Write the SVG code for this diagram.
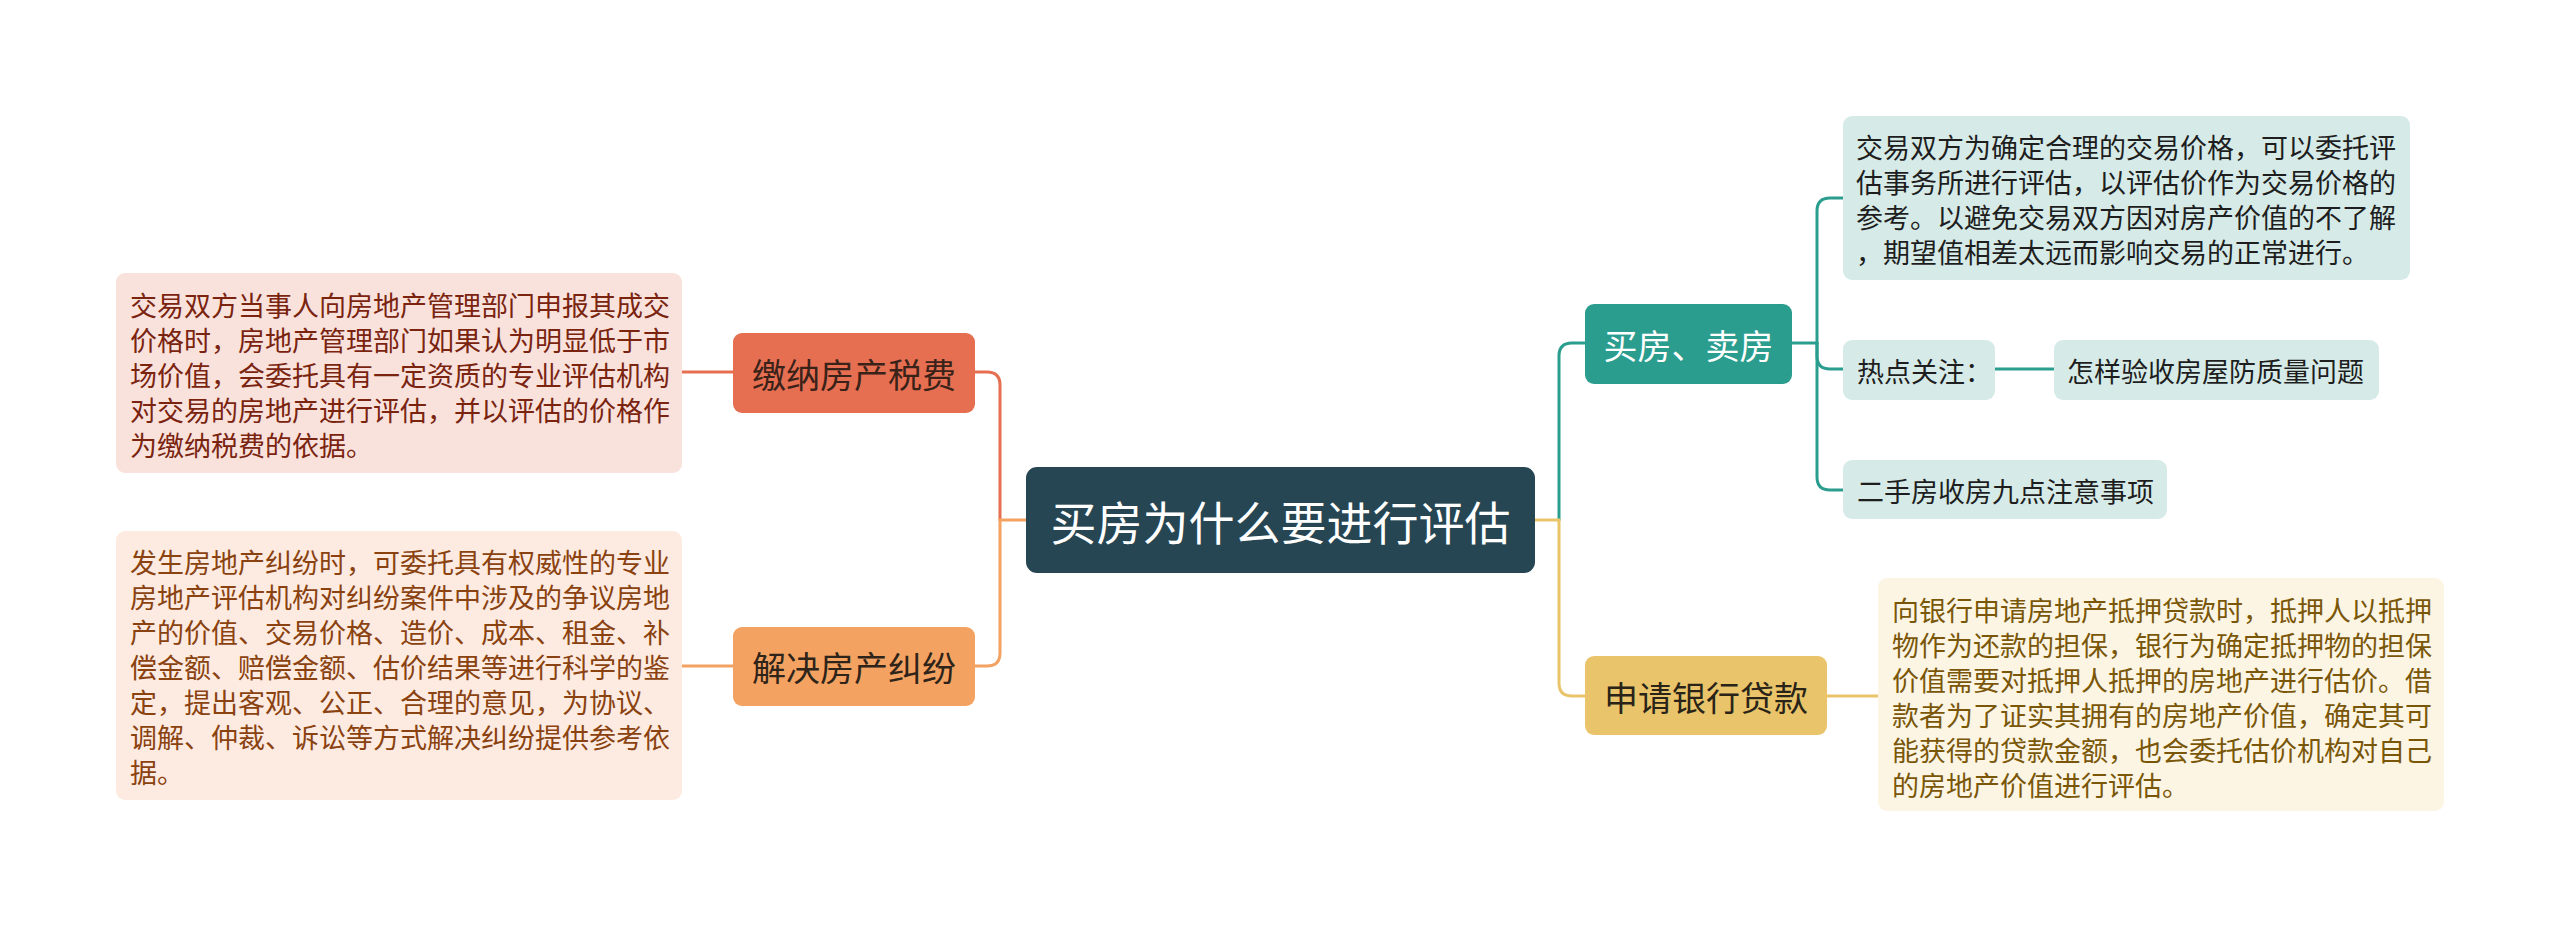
<svg xmlns="http://www.w3.org/2000/svg" width="2560" height="929" viewBox="0 0 2560 929">
<style>
text{font-family:"Noto Sans CJK SC","Noto Sans CJK JP",sans-serif;dominant-baseline:central}
.c{fill:none;stroke-width:3;stroke-linecap:round}
.coral{stroke:#e76f51}.orange{stroke:#f4a261}.teal{stroke:#2a9d8f}.gold{stroke:#e9c46a}
.t27{font-size:27px}
.b34{font-size:34px;text-anchor:middle}
</style>
<rect width="2560" height="929" fill="#ffffff"/>
<g id="connectors">
<path class="c coral" d="M1000,520 V385 Q1000,372 987,372 H975"/>
<path class="c orange" d="M1026,520 H1000 V653 Q1000,666 987,666 H975"/>
<path class="c coral" d="M733,372 H682"/>
<path class="c orange" d="M733,666 H682"/>
<path class="c teal" d="M1559,520 V356 Q1559,343 1572,343 H1585"/>
<path class="c gold" d="M1535,520 H1559 V683 Q1559,696 1572,696 H1585"/>
<path class="c teal" d="M1792,343 H1817 V211 Q1817,198 1830,198 H1843"/>
<path class="c teal" d="M1817,343 V356 Q1817,369 1830,369 H1843"/>
<path class="c teal" d="M1817,343 V477 Q1817,490 1830,490 H1843"/>
<path class="c teal" d="M1995,369 H2054"/>
<path class="c gold" d="M1827,696 H1878"/>
</g>
<g id="root">
<rect x="1026" y="467" width="509" height="106" rx="11" fill="#264653"/>
<text x="1280.5" y="520" font-size="46" text-anchor="middle" fill="#ffffff">买房为什么要进行评估</text>
</g>
<g id="n-tax">
<rect x="733" y="333" width="242" height="80" rx="9" fill="#e76f51"/>
<text class="b34" x="854" y="373" fill="#3a2219">缴纳房产税费</text>
</g>
<g id="n-tax-detail">
<rect x="116" y="273" width="566" height="200" rx="9" fill="#f9e2dc"/>
<text class="t27" x="130" fill="#7a2410"><tspan x="130" y="304">交易双方当事人向房地产管理部门申报其成交</tspan><tspan x="130" y="339">价格时，房地产管理部门如果认为明显低于市</tspan><tspan x="130" y="374">场价值，会委托具有一定资质的专业评估机构</tspan><tspan x="130" y="409">对交易的房地产进行评估，并以评估的价格作</tspan><tspan x="130" y="444">为缴纳税费的依据。</tspan></text>
</g>
<g id="n-dispute">
<rect x="733" y="627" width="242" height="79" rx="9" fill="#f4a261"/>
<text class="b34" x="854" y="666" fill="#2e2419">解决房产纠纷</text>
</g>
<g id="n-dispute-detail">
<rect x="116" y="531" width="566" height="269" rx="9" fill="#fdebe1"/>
<text class="t27" fill="#8a4210"><tspan x="130" y="561">发生房地产纠纷时，可委托具有权威性的专业</tspan><tspan x="130" y="596">房地产评估机构对纠纷案件中涉及的争议房地</tspan><tspan x="130" y="631">产的价值、交易价格、造价、成本、租金、补</tspan><tspan x="130" y="666">偿金额、赔偿金额、估价结果等进行科学的鉴</tspan><tspan x="130" y="701">定，提出客观、公正、合理的意见，为协议、</tspan><tspan x="130" y="736">调解、仲裁、诉讼等方式解决纠纷提供参考依</tspan><tspan x="130" y="771">据。</tspan></text>
</g>
<g id="n-trade">
<rect x="1585" y="304" width="207" height="80" rx="9" fill="#2a9d8f"/>
<text class="b34" x="1688.5" y="344" fill="#ffffff">买房、卖房</text>
</g>
<g id="n-trade-detail">
<rect x="1843" y="116" width="567" height="164" rx="9" fill="#d6ebe8"/>
<text class="t27" fill="#1e1e1e"><tspan x="1856" y="146">交易双方为确定合理的交易价格，可以委托评</tspan><tspan x="1856" y="181">估事务所进行评估，以评估价作为交易价格的</tspan><tspan x="1856" y="216">参考。以避免交易双方因对房产价值的不了解</tspan><tspan x="1856" y="251">，期望值相差太远而影响交易的正常进行。</tspan></text>
</g>
<g id="n-hot">
<rect x="1843" y="340" width="152" height="60" rx="9" fill="#d6ebe8"/>
<text class="t27" x="1857" y="370" fill="#1e1e1e">热点关注：</text>
</g>
<g id="n-hot-item">
<rect x="2054" y="340" width="325" height="60" rx="9" fill="#d6ebe8"/>
<text class="t27" x="2067" y="370" fill="#1e1e1e">怎样验收房屋防质量问题</text>
</g>
<g id="n-second">
<rect x="1843" y="460" width="324" height="59" rx="9" fill="#d6ebe8"/>
<text class="t27" x="1857" y="490" fill="#1e1e1e">二手房收房九点注意事项</text>
</g>
<g id="n-loan">
<rect x="1585" y="656" width="242" height="79" rx="9" fill="#e9c46a"/>
<text class="b34" x="1706" y="696" fill="#2a2418">申请银行贷款</text>
</g>
<g id="n-loan-detail">
<rect x="1878" y="578" width="566" height="233" rx="9" fill="#fcf5e4"/>
<text class="t27" fill="#7a5708"><tspan x="1892" y="609">向银行申请房地产抵押贷款时，抵押人以抵押</tspan><tspan x="1892" y="644">物作为还款的担保，银行为确定抵押物的担保</tspan><tspan x="1892" y="679">价值需要对抵押人抵押的房地产进行估价。借</tspan><tspan x="1892" y="714">款者为了证实其拥有的房地产价值，确定其可</tspan><tspan x="1892" y="749">能获得的贷款金额，也会委托估价机构对自己</tspan><tspan x="1892" y="784">的房地产价值进行评估。</tspan></text>
</g>
</svg>
